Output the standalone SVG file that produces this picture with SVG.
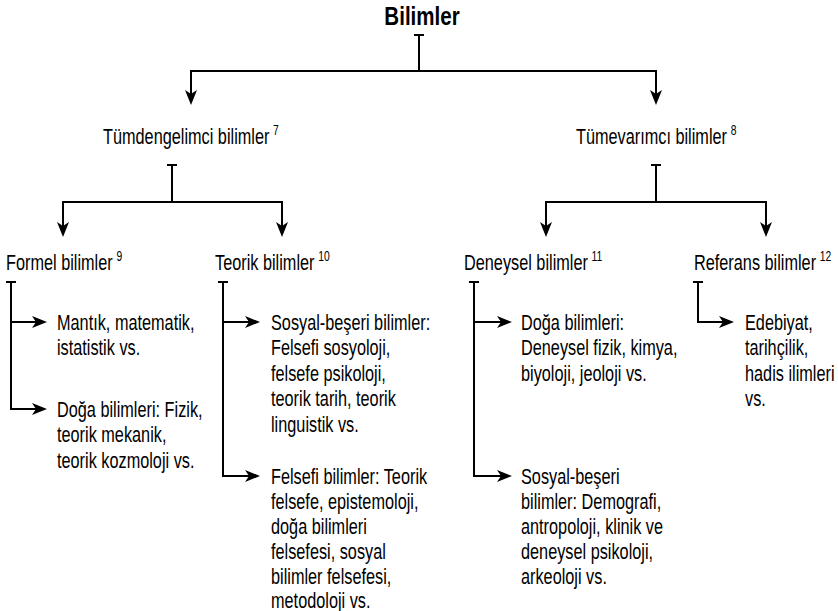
<svg xmlns="http://www.w3.org/2000/svg" width="838" height="611" viewBox="0 0 838 611">
<defs>
<style>
text{font-family:"Liberation Sans",Arial,sans-serif;fill:#000;font-size:22px}
.title{font-weight:bold;font-size:26px}
.sup{font-size:14px}
.c{fill:none;stroke:#000;stroke-width:2}
</style>
<marker id="ah" markerUnits="userSpaceOnUse" viewBox="-16 -7 16 14" refX="-4" refY="0" markerWidth="16" markerHeight="14" orient="auto">
<path d="M0,0 L-15,-6 L-11,0 L-15,6 Z" fill="#000"/>
</marker>
</defs>
<rect width="838" height="611" fill="#fff"/>
<g id="connectors">
<path class="c" d="M414,35 H424 M419,35 V71"/>
<path class="c" d="M419,71 H191 V101" marker-end="url(#ah)"/>
<path class="c" d="M419,71 H656 V101" marker-end="url(#ah)"/>
<path class="c" d="M167,165 H177 M172,165 V202"/>
<path class="c" d="M172,202 H63 V233" marker-end="url(#ah)"/>
<path class="c" d="M172,202 H282 V233" marker-end="url(#ah)"/>
<path class="c" d="M651,165 H661 M656,165 V202"/>
<path class="c" d="M656,202 H546 V233" marker-end="url(#ah)"/>
<path class="c" d="M656,202 H766 V233" marker-end="url(#ah)"/>
<path class="c" d="M6,282 H16 M11,282 V322"/>
<path class="c" d="M11,322 H43" marker-end="url(#ah)"/>
<path class="c" d="M11,322 V409 H43" marker-end="url(#ah)"/>
<path class="c" d="M218,282 H228 M223,282 V322"/>
<path class="c" d="M223,322 H256" marker-end="url(#ah)"/>
<path class="c" d="M223,322 V476 H256" marker-end="url(#ah)"/>
<path class="c" d="M469,282 H479 M474,282 V322"/>
<path class="c" d="M474,322 H508" marker-end="url(#ah)"/>
<path class="c" d="M474,322 V476 H508" marker-end="url(#ah)"/>
<path class="c" d="M693,282 H703 M698,282 V322 H730" marker-end="url(#ah)"/>
</g>
<g id="bilimler" transform="translate(422,25) scale(0.79,1)"><text class="title" x="0" y="0" text-anchor="middle">Bilimler</text></g>
<g id="tumdengelimci" transform="translate(103,144) scale(0.74,1)"><text x="0" y="0">Tümdengelimci bilimler<tspan class="sup" dx="5" dy="-9">7</tspan></text></g>
<g id="tumevarimci" transform="translate(576,144) scale(0.74,1)"><text x="0" y="0">Tümevarımcı bilimler<tspan class="sup" dx="5" dy="-9">8</tspan></text></g>
<g id="formel" transform="translate(6,270) scale(0.74,1)"><text x="0" y="0">Formel bilimler<tspan class="sup" dx="5" dy="-9">9</tspan></text></g>
<g id="teorik" transform="translate(215,270) scale(0.74,1)"><text x="0" y="0">Teorik bilimler<tspan class="sup" dx="5" dy="-9">10</tspan></text></g>
<g id="deneysel" transform="translate(464,270) scale(0.74,1)"><text x="0" y="0">Deneysel bilimler<tspan class="sup" dx="5" dy="-9">11</tspan></text></g>
<g id="referans" transform="translate(694,270) scale(0.74,1)"><text x="0" y="0">Referans bilimler<tspan class="sup" dx="5" dy="-9">12</tspan></text></g>
<g id="mantik" transform="translate(57,330) scale(0.74,1)"><text x="0" y="0"><tspan x="0">Mantık, matematik,</tspan><tspan x="0" dy="25.5">istatistik vs.</tspan></text></g>
<g id="formel-doga" transform="translate(57,417) scale(0.74,1)"><text x="0" y="0"><tspan x="0">Doğa bilimleri: Fizik,</tspan><tspan x="0" dy="25.5">teorik mekanik,</tspan><tspan x="0" dy="25.5">teorik kozmoloji vs.</tspan></text></g>
<g id="teorik-sosyal" transform="translate(271,330) scale(0.74,1)"><text x="0" y="0"><tspan x="0">Sosyal-beşeri bilimler:</tspan><tspan x="0" dy="25.5">Felsefi sosyoloji,</tspan><tspan x="0" dy="25.5">felsefe psikoloji,</tspan><tspan x="0" dy="25.5">teorik tarih, teorik</tspan><tspan x="0" dy="25.5">linguistik vs.</tspan></text></g>
<g id="felsefi" transform="translate(271,484) scale(0.74,1)"><text x="0" y="0"><tspan x="0">Felsefi bilimler: Teorik</tspan><tspan x="0" dy="25">felsefe, epistemoloji,</tspan><tspan x="0" dy="25">doğa bilimleri</tspan><tspan x="0" dy="25">felsefesi, sosyal</tspan><tspan x="0" dy="25">bilimler felsefesi,</tspan><tspan x="0" dy="24">metodoloji vs.</tspan></text></g>
<g id="deneysel-doga" transform="translate(521,330) scale(0.74,1)"><text x="0" y="0"><tspan x="0">Doğa bilimleri:</tspan><tspan x="0" dy="25.5">Deneysel fizik, kimya,</tspan><tspan x="0" dy="25.5">biyoloji, jeoloji vs.</tspan></text></g>
<g id="deneysel-sosyal" transform="translate(521,484) scale(0.74,1)"><text x="0" y="0"><tspan x="0">Sosyal-beşeri</tspan><tspan x="0" dy="25">bilimler: Demografi,</tspan><tspan x="0" dy="25">antropoloji, klinik ve</tspan><tspan x="0" dy="25">deneysel psikoloji,</tspan><tspan x="0" dy="25">arkeoloji vs.</tspan></text></g>
<g id="edebiyat" transform="translate(745,330) scale(0.74,1)"><text x="0" y="0"><tspan x="0">Edebiyat,</tspan><tspan x="0" dy="25.5">tarihçilik,</tspan><tspan x="0" dy="25.5">hadis ilimleri</tspan><tspan x="0" dy="25.5">vs.</tspan></text></g>
</svg>
